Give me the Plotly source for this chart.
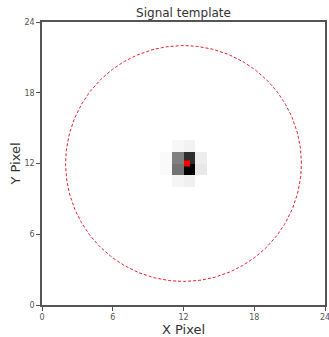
import numpy as np
import plotly.graph_objects as go

# Data
grid_size = 24
px_x = [11, 12, 10, 11, 12, 13, 10, 11, 12, 13, 11, 12]
px_y = [13, 13, 12, 12, 12, 12, 11, 11, 11, 11, 10, 10]
px_val = [0.03, 0.05, 0.02, 0.50, 0.82, 0.07, 0.02, 0.55, 1.00, 0.09, 0.04, 0.06]
source_x = [12.3]
source_y = [12.0]
circle_center = (12.0, 12.0)
circle_radius = 10.0
tick_vals = [0, 6, 12, 18, 24]

z = np.zeros((grid_size, grid_size))
for xi, yi, v in zip(px_x, px_y, px_val):
    z[yi, xi] = v
centers = np.arange(grid_size) + 0.5

theta = np.linspace(0, 2 * np.pi, 361)
cx = circle_center[0] + circle_radius * np.cos(theta)
cy = circle_center[1] + circle_radius * np.sin(theta)

fig = go.Figure()
fig.add_trace(go.Heatmap(x=centers, y=centers, z=z,
                         colorscale=[[0, "#ffffff"], [1, "#000000"]],
                         zmin=0, zmax=1, showscale=False, hoverinfo="skip"))
fig.add_trace(go.Scatter(x=cx, y=cy, mode="lines",
                         line=dict(color="#e8202a", width=1, dash="3px,2px"),
                         hoverinfo="skip"))
fig.add_trace(go.Scatter(x=source_x, y=source_y, mode="markers",
                         marker=dict(color="#ff0000", size=6, symbol="square"),
                         hoverinfo="skip"))

axis_common = dict(range=[0, 24], tickvals=tick_vals, ticks="outside", ticklen=4,
                   tickcolor="#555", tickwidth=1, showline=True, mirror=True,
                   linecolor="#555", linewidth=1.5, showgrid=False, zeroline=False,
                   automargin=False, ticklabeloverflow="allow",
                   tickfont=dict(family="DejaVu Sans", size=8, color="#555"))

fig.update_layout(
    width=329, height=337,
    margin=dict(l=42, r=4, t=22, b=32),
    plot_bgcolor="white", paper_bgcolor="white",
    showlegend=False,
    title=dict(text="Signal template", x=0.5, xanchor="center", xref="paper",
               y=0.963, yanchor="middle",
               font=dict(family="DejaVu Sans", size=12, color="#333")),
    xaxis=dict(axis_common, title=dict(text="X Pixel", standoff=2,
               font=dict(family="DejaVu Sans", size=13, color="#333"))),
    yaxis=dict(axis_common, title=dict(text="Y Pixel", standoff=1,
               font=dict(family="DejaVu Sans", size=13, color="#333"))),
)

fig.write_html("out.html", config={"displayModeBar": False},
               post_script="document.body.style.margin='0';")
